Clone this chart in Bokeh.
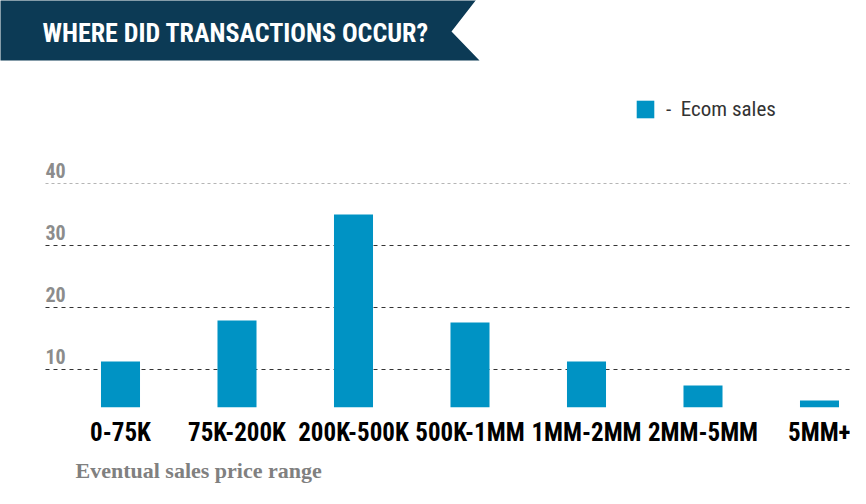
from bokeh.plotting import figure
from bokeh.models import (Range1d, FixedTicker, LinearAxis, Title, Legend,
                          LegendItem, ColumnDataSource)
from bokeh.embed import file_html
from bokeh.resources import INLINE
from bokeh.core.properties import value

# ---- data -------------------------------------------------------------
title_text = "WHERE DID TRANSACTIONS OCCUR?"
categories = ["0-75K", "75K-200K", "200K-500K", "500K-1MM", "1MM-2MM", "2MM-5MM", "5MM+"]
ecom_sales = [11.3, 17.9, 35.0, 17.6, 11.3, 7.4, 5.0]
y_ticks = [10, 20, 30, 40]
series_name = "Ecom sales"
x_title = "Eventual sales price range"

# ---- style ------------------------------------------------------------
COND = "Roboto Condensed"
SERIF = "Liberation Serif"
BLUE = "#0093C4"
NAVY = "#0c3a55"
W, H = 850, 488

# pixel helpers (figure pixels)
PX_UNIT, X0_PX = 116.5, 120.0   # x: category index -> px
PY_UNIT, Y0_PX = 6.2, 431.0     # y: value -> px (from top)
def dx(px): return (px - X0_PX) / PX_UNIT
def dy(py): return (Y0_PX - py) / PY_UNIT

FRAME_BOTTOM = 407
x_idx = list(range(len(categories)))
src = ColumnDataSource(dict(x=x_idx, top=ecom_sales))

p = figure(width=W, height=H,
           x_range=Range1d(dx(0), dx(W)), y_range=Range1d(dy(FRAME_BOTTOM), dy(0)),
           output_backend="svg", toolbar_location=None, x_axis_type=None, y_axis_type=None,
           min_border_left=0, min_border_right=0, min_border_top=0,
           min_border_bottom=H - FRAME_BOTTOM, outline_line_color=None)
p.grid.visible = False

# banner (decoration)
p.patch([dx(-5), dx(479), dx(451), dx(479), dx(-5)],
        [dy(-5), dy(-5), dy(31), dy(60), dy(60)], fill_color=NAVY, line_color=None)
p.text(x=[dx(42)], y=[dy(32)], text=[title_text], text_font=value(COND),
       text_font_size="26px", text_font_style="bold", text_color="white",
       text_baseline="middle", text_align="left")

# horizontal grid lines
grid_x0, grid_x1 = dx(45), dx(W + 10)
dark = y_ticks[:-1]
p.segment(x0=[grid_x0] * len(dark), x1=[grid_x1] * len(dark), y0=dark, y1=dark,
          line_color="#333333", line_dash="4 4", line_width=1)
p.segment(x0=[grid_x0], x1=[grid_x1], y0=y_ticks[-1:], y1=y_ticks[-1:],
          line_color="#b5b5b5", line_dash="3 3", line_width=1)

# y tick labels sit above their grid lines
p.text(x=[grid_x0] * len(y_ticks), y=y_ticks, text=[str(t) for t in y_ticks],
       text_font=value(COND), text_font_size="20px", text_font_style="bold",
       text_color="#8c8c8c", text_baseline="bottom", text_align="left", y_offset=-6)

r = p.vbar(x="x", top="top", bottom=0, width=0.335, source=src,
           fill_color=BLUE, line_color=None)

xaxis = LinearAxis(ticker=FixedTicker(ticks=x_idx, minor_ticks=[]),
                   major_label_overrides={i: c for i, c in enumerate(categories)},
                   axis_line_color=None, major_tick_line_color=None, minor_tick_line_color=None,
                   major_tick_out=0, major_tick_in=0, major_label_standoff=10,
                   major_label_text_font=COND, major_label_text_font_size="25px",
                   major_label_text_font_style="bold", major_label_text_color="black")
p.add_layout(xaxis, "below")

legend = Legend(items=[LegendItem(label="-  " + series_name, renderers=[r])],
                location=(634, 286), orientation="horizontal",
                border_line_color=None, background_fill_alpha=0,
                padding=0, margin=0, spacing=0,
                glyph_width=22, glyph_height=22, label_height=22, label_standoff=10,
                label_text_font=COND, label_text_font_size="21px",
                label_text_color="#333333", label_text_baseline="middle")
p.add_layout(legend)

p.add_layout(Title(text=x_title, align="left", offset=75, standoff=12,
                   text_font=SERIF, text_font_size="22px", text_font_style="bold",
                   text_color="#808080"), "below")

open("out.html", "w").write(file_html(p, INLINE))
